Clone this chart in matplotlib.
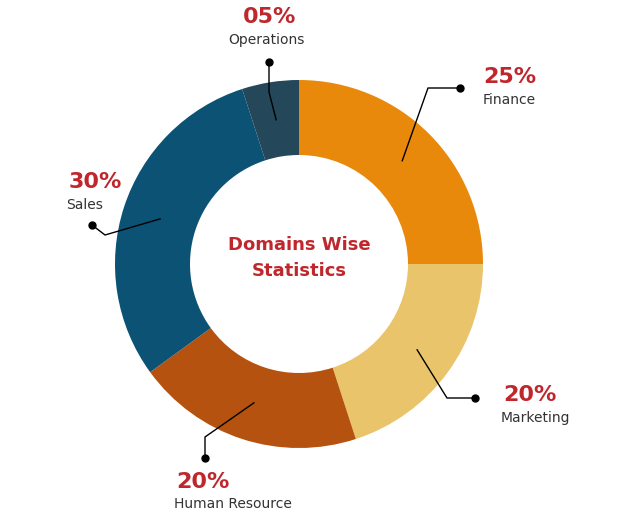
import matplotlib
matplotlib.use('Agg')
import numpy as np
import matplotlib.pyplot as plt

labels = ['Finance', 'Marketing', 'Human Resource', 'Sales', 'Operations']
values = [25, 20, 20, 30, 5]
pct_text = ['25%', '20%', '20%', '30%', '05%']
colors = ['#E8890C', '#E9C46A', '#B5520F', '#0B5275', '#24475A']

W, H = 636, 512
cx, cy, R = 299, 248, 184

fig = plt.figure(figsize=(W/100, H/100), dpi=100)
ax = fig.add_axes([0, 0, 1, 1])
ax.set_xlim(0, W); ax.set_ylim(0, H)
ax.set_aspect('equal'); ax.axis('off')

wedges, _ = ax.pie(values, colors=colors, startangle=90, counterclock=False,
                   center=(cx, cy), radius=R, frame=True,
                   wedgeprops=dict(width=75, linewidth=0))
ax.set_xlim(0, W); ax.set_ylim(0, H); ax.axis('off')

# leader line routes: elbow point, dot point, label position (pixel, y-up)
routes = [
    ((428, 424), (460, 424), (510, 435), (509, 412)),
    ((447, 114), (475, 114), (530, 117), (535, 94)),
    ((205, 75), (205, 54), (203, 30), (233, 8)),
    ((105, 277), (92, 287), (95, 330), (85, 307)),
    ((269, 420), (269, 450), (270, 495), (266, 472)),
]
red = '#C0272D'
for w, (elb, dot, pl, nl), p, lab in zip(wedges, routes, pct_text, labels):
    ang = np.deg2rad((w.theta1 + w.theta2) / 2)
    sx, sy = cx + 146 * np.cos(ang), cy + 146 * np.sin(ang)
    ax.plot([sx, elb[0], dot[0]], [sy, elb[1], dot[1]], color='black', lw=1)
    ax.plot(*dot, 'o', color='black', ms=5)
    ax.text(*pl, p, color=red, fontsize=16, fontweight='bold', ha='center', va='center')
    ax.text(*nl, lab, color='#333333', fontsize=10, ha='center', va='center')

ax.text(cx, cy + 6, 'Domains Wise\nStatistics', color=red, fontsize=13,
        fontweight='bold', ha='center', va='center', linespacing=1.5)

fig.savefig('out.png', dpi=100)
